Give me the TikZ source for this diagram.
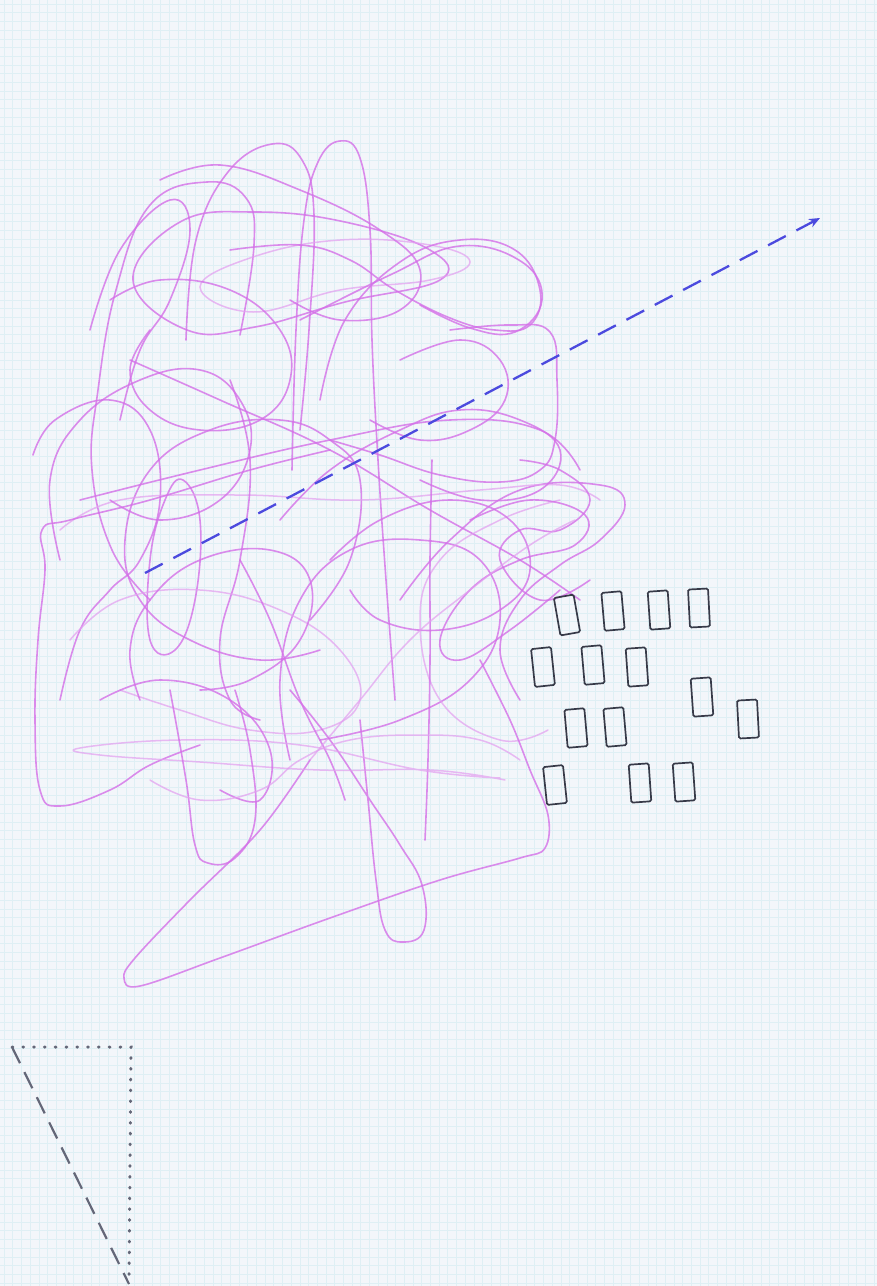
\documentclass[tikz,border=0pt]{standalone}
\usepackage{tikz}
\usetikzlibrary{arrows.meta}

\definecolor{paper}{RGB}{243,246,250}
\definecolor{gridc}{RGB}{223,239,244}
\definecolor{ink}{RGB}{212,112,232}
\definecolor{inklight}{RGB}{226,158,240}
\definecolor{penblue}{RGB}{76,74,222}
\definecolor{pencil}{RGB}{55,58,72}
\definecolor{tri}{RGB}{100,103,120}

\begin{document}
\begin{tikzpicture}[x=1pt, y=-1pt, >=Stealth,
    scrib/.style={ink, line width=1.6pt, line cap=round, line join=round, opacity=0.8},
    scribl/.style={inklight, line width=1.5pt, line cap=round, opacity=0.7},
    cell/.style={draw=pencil, line width=1.7pt, rounded corners=1.5pt,
      minimum width=20pt, minimum height=38pt, inner sep=0pt}]

    % 0. 纸张与方格
    \useasboundingbox (0,0) rectangle (877,1286);
    \fill[paper] (0,0) rectangle (877,1286);
    \foreach \g in {4,12.7,...,877} \draw[gridc, line width=0.5pt] (\g,0) -- (\g,1286);
    \foreach \g in {4,12.7,...,1286} \draw[gridc, line width=0.5pt] (0,\g) -- (877,\g);

    % 1. 乱涂的线团（上部）
    \draw[scrib] plot[smooth, tension=0.7] coordinates {(292,470) (296,330) (304,220) (318,162) (340,141) (360,158) (370,230) (372,340) (378,460) (386,580) (395,700)};
    \draw[scrib] plot[smooth, tension=0.7] coordinates {(186,340) (196,240) (228,172) (272,144) (302,160) (314,215) (309,330) (300,430)};
    \draw[scrib] plot[smooth, tension=0.7] coordinates {(240,335) (254,245) (246,198) (207,182) (150,205) (116,290) (98,390) (92,470) (112,550) (150,600)};
    \draw[scrib] plot[smooth cycle, tension=0.7] coordinates {(133,280) (180,222) (255,212) (345,222) (430,250) (440,280) (345,302) (255,327) (187,330)};
    \draw[scribl] plot[smooth cycle, tension=0.7] coordinates {(200,287) (253,257) (340,240) (430,245) (470,262) (430,280) (340,290) (253,312)};
    \draw[scrib] plot[smooth, tension=0.7] coordinates {(320,400) (345,320) (400,262) (460,240) (515,250) (540,290) (530,325) (495,330) (450,318) (395,290) (350,260) (300,245) (230,250)};
    \draw[scrib] plot[smooth, tension=0.7] coordinates {(300,320) (390,275) (460,246) (522,262) (542,300) (515,332) (470,328) (420,305)};
    \draw[scrib] plot[smooth, tension=0.7] coordinates {(450,330) (510,325) (550,332) (557,380) (555,440) (540,470) (500,482) (440,475) (380,455) (330,440)};
    \draw[scrib] plot[smooth, tension=0.7] coordinates {(160,180) (220,165) (300,190) (380,230) (420,270) (400,310) (340,320) (290,300)};
    \draw[scrib] plot[smooth, tension=0.7] coordinates {(90,330) (120,250) (170,200) (190,230) (170,300) (140,350) (120,420)};
    \draw[scrib] plot[smooth, tension=0.7] coordinates {(110,300) (160,280) (230,290) (280,330) (290,380) (260,420) (200,430) (150,410) (130,370) (150,330)};
    \draw[scrib] plot[smooth, tension=0.7] coordinates {(400,360) (460,340) (500,360) (505,400) (470,430) (420,440) (370,420)};

    % 2. 乱涂的线团（中部）
    \draw[scrib] plot[smooth, tension=0.7] coordinates {(400,600) (450,540) (520,490) (600,485) (625,505) (600,540) (560,565) (520,600) (500,650) (520,700)};
    \draw[scrib] plot[smooth, tension=0.7] coordinates {(33,455) (55,420) (110,400) (150,430) (160,500) (140,560) (110,590) (80,630) (60,700)};
    \draw[scrib] plot[smooth cycle, tension=0.7] coordinates {(183,480) (200,520) (195,600) (175,650) (150,640) (150,560) (165,500)};
    \draw[scrib] plot[smooth, tension=0.7] coordinates {(320,650) (260,660) (190,640) (140,600) (125,540) (150,470) (210,430) (280,420) (330,440) (360,480) (350,560) (310,620)};
    \draw[scrib] plot[smooth, tension=0.7] coordinates {(80,500) (200,470) (330,440) (450,420) (540,430) (580,470)};
    \draw[scrib] plot[smooth, tension=0.7] coordinates {(130,360) (220,400) (330,450) (430,510) (520,560) (580,600)};
    \draw[scrib] plot[smooth, tension=0.7] coordinates {(290,760) (280,680) (300,600) (350,550) (420,540) (480,560) (500,620) (470,680) (400,720) (320,740)};
    \draw[scribl] plot[smooth, tension=0.7] coordinates {(560,500) (500,520) (440,560) (420,620) (440,700) (500,740) (548,730)};
    \draw[scrib] plot[smooth, tension=0.7] coordinates {(470,520) (530,500) (585,515) (575,545) (520,560) (470,590) (440,640) (460,660) (510,630) (560,590)};
    \draw[scribl] plot[smooth, tension=0.7] coordinates {(60,530) (120,500) (240,495) (360,500) (480,490) (560,485) (600,500)};
    \draw[scrib] plot[smooth, tension=0.7] coordinates {(432,460) (430,560) (430,660) (428,760) (425,840)};
    \draw[scrib] plot[smooth, tension=0.7] coordinates {(230,380) (250,460) (240,560) (220,640) (230,700) (260,720)};
    \draw[scrib] plot[smooth, tension=0.7] coordinates {(60,560) (50,480) (80,420) (140,380) (200,370) (240,400) (250,450) (220,500) (160,520) (110,500)};
    \draw[scrib] plot[smooth, tension=0.7] coordinates {(280,520) (330,470) (400,430) (460,410) (520,420) (560,450) (540,490) (480,500) (420,480)};
    \draw[scrib] plot[smooth, tension=0.7] coordinates {(330,560) (380,520) (450,500) (510,520) (530,570) (500,610) (440,630) (380,620) (350,590)};
    \draw[scribl] plot[smooth, tension=0.7] coordinates {(70,640) (120,600) (200,590) (280,610) (340,650) (360,700) (320,730) (250,730) (180,710) (120,690)};
    \draw[scrib] plot[smooth, tension=0.7] coordinates {(140,700) (130,650) (150,600) (200,560) (270,550) (310,580) (300,640) (250,680) (200,690)};
    \draw[scrib] plot[smooth, tension=0.7] coordinates {(240,560) (270,620) (300,700) (330,760) (345,800)};
    \draw[scrib] plot[smooth, tension=0.7] coordinates {(520,460) (560,470) (590,500) (560,530) (520,530) (500,560) (540,600) (590,580)};
    \draw[scribl] plot[smooth, tension=0.7] coordinates {(310,760) (360,700) (410,640) (470,590) (530,545) (575,520)};

    % 3. 乱涂的线团（下部与尾巴）
    \draw[scrib] plot[smooth, tension=0.6] coordinates {(310,760) (260,830) (190,900) (135,958) (124,978) (140,986) (220,958) (330,918) (440,880) (520,858) (545,848) (548,815) (530,770) (510,720) (480,660)};
    \draw[scrib] plot[smooth, tension=0.7] coordinates {(360,720) (368,800) (376,880) (385,930) (403,942) (424,930) (422,885) (400,845) (370,800) (330,740) (290,690)};
    \draw[scrib] plot[smooth, tension=0.7] coordinates {(200,745) (150,765) (110,790) (60,806) (40,790) (35,720) (38,640) (45,570) (42,530) (70,520) (150,500) (250,470) (330,450)};
    \draw[scribl] plot[smooth, tension=0.7] coordinates {(500,778) (420,770) (300,745) (180,740) (80,748) (100,755) (200,762) (320,770) (430,770) (505,780)};
    \draw[scrib] plot[smooth, tension=0.7] coordinates {(170,690) (186,780) (195,845) (208,863) (235,858) (255,820) (250,750) (235,690)};
    \draw[scrib] plot[smooth, tension=0.7] coordinates {(100,700) (160,680) (230,700) (270,750) (260,800) (220,790)};
    \draw[scribl] plot[smooth, tension=0.7] coordinates {(150,780) (200,800) (260,790) (300,760) (350,740) (420,735) (480,740) (520,760)};

    % 4. 蓝色虚线箭头
    \coordinate (A0) at (145,573);
    \coordinate (A1) at (820,218);
    \draw[penblue, line width=2.3pt, dash pattern=on 20pt off 12pt,
      -{Stealth[length=11pt, width=9pt]}] (A0) -- (A1);

    % 5. 铅笔画的小方块
    \foreach \x/\y/\r [count=\i] in {567/615/10, 613/611/5, 659/610/4, 699/608/3,
        543/667/6, 593/665/5, 637/667/4, 702/697/4, 748/719/3,
        576/728/5, 615/727/5, 555/785/6, 640/783/4, 684/782/4}
      \node[cell, rotate=\r] (c\i) at (\x,\y) {};

    % 6. 左下角的三角形
    \coordinate (T1) at (12,1047);
    \coordinate (T2) at (131,1047);
    \coordinate (T3) at (129,1284);
    \draw[tri, line width=3pt, line cap=round, dash pattern=on 0.8pt off 10pt] (T1) -- (T2) -- (T3);
    \draw[tri, line width=2.2pt, dash pattern=on 18pt off 10pt] (T1) -- (T3);

\end{tikzpicture}
\end{document}
